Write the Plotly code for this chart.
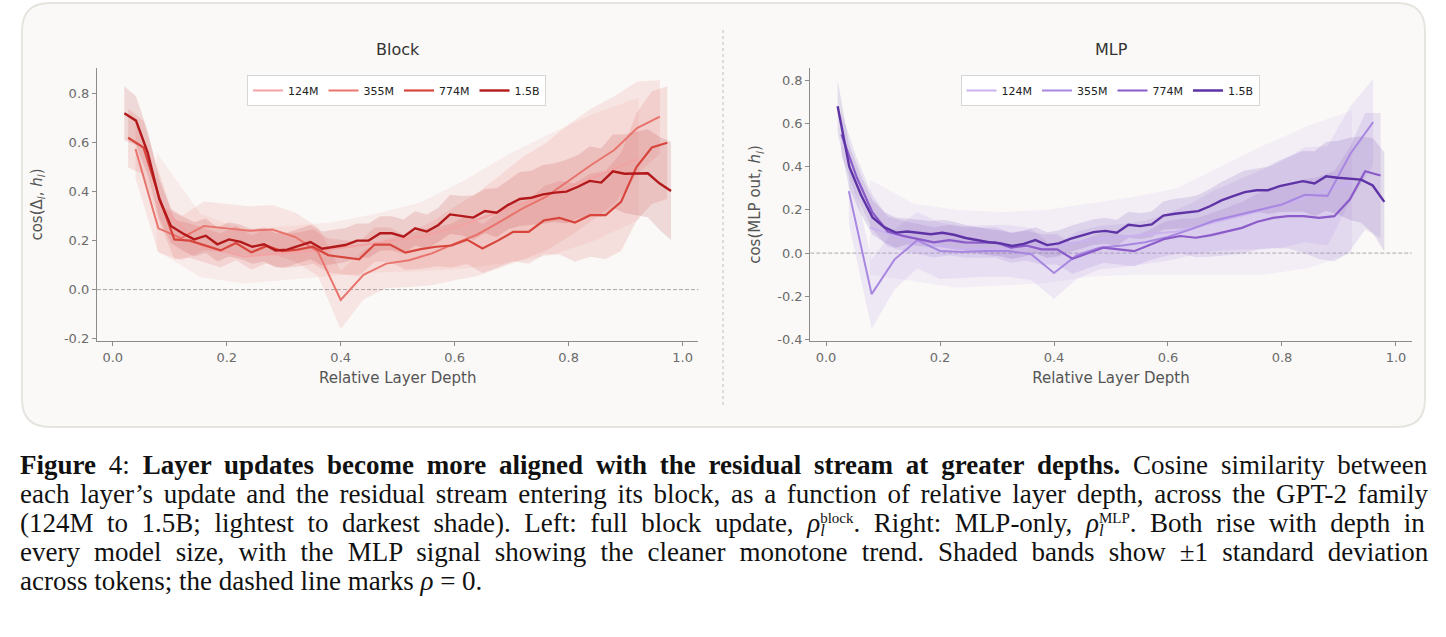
import plotly.graph_objects as go

W, H = 1446, 637

# ---------------- data ----------------
model_names = ["124M", "355M", "774M", "1.5B"]
n_layers = [12, 24, 36, 48]

# Block panel: mean cosine per layer (lightest -> darkest)
blk_124 = [0.36, 0.18, 0.135, 0.15, 0.165, 0.19, 0.215, 0.265, 0.33, 0.39, 0.46, 0.535]
blk_355 = [0.574, 0.25, 0.21, 0.26, 0.25, 0.24, 0.245, 0.215, 0.155, -0.042, 0.06, 0.106,
           0.12, 0.148, 0.188, 0.225, 0.278, 0.333, 0.379, 0.445, 0.51, 0.57, 0.66, 0.706]
blk_774 = [0.62, 0.58, 0.38, 0.205, 0.20, 0.18, 0.16, 0.19, 0.152, 0.178, 0.157, 0.163,
           0.175, 0.14, 0.133, 0.124, 0.184, 0.184, 0.151, 0.165, 0.175, 0.18, 0.204, 0.168,
           0.2, 0.236, 0.236, 0.283, 0.293, 0.274, 0.304, 0.304, 0.358, 0.50, 0.58, 0.60]
blk_15b = [0.72, 0.69, 0.56, 0.37, 0.26, 0.23, 0.205, 0.22, 0.185, 0.205, 0.195, 0.175,
           0.185, 0.16, 0.163, 0.177, 0.194, 0.167, 0.175, 0.182, 0.20, 0.20, 0.23, 0.23,
           0.216, 0.25, 0.237, 0.264, 0.307, 0.302, 0.294, 0.321, 0.314, 0.346, 0.37, 0.375,
           0.389, 0.396, 0.40, 0.42, 0.444, 0.437, 0.483, 0.473, 0.475, 0.475, 0.434, 0.403]

blk_124_sd = [0.2, 0.13, 0.11, 0.11, 0.11, 0.12, 0.14, 0.18, 0.22, 0.25, 0.26, 0.25]
blk_355_sd = [0.12, 0.1, 0.09, 0.1, 0.1, 0.1, 0.1, 0.1, 0.1, 0.12, 0.1, 0.1,
              0.11, 0.13, 0.15, 0.17, 0.19, 0.21, 0.22, 0.23, 0.23, 0.22, 0.19, 0.15]
blk_774_sd = [0.12, 0.11, 0.1, 0.08, 0.07, 0.07, 0.07, 0.07, 0.07, 0.07, 0.07, 0.07,
              0.07, 0.07, 0.07, 0.07, 0.07, 0.07, 0.07, 0.08, 0.08, 0.09, 0.1, 0.1,
              0.11, 0.12, 0.13, 0.14, 0.15, 0.16, 0.17, 0.18, 0.2, 0.22, 0.23, 0.23]
blk_15b_sd = [0.11, 0.1, 0.09, 0.08, 0.07, 0.07, 0.07, 0.07, 0.07, 0.07, 0.07, 0.07,
              0.07, 0.07, 0.07, 0.07, 0.07, 0.07, 0.07, 0.07, 0.07, 0.07, 0.07, 0.07,
              0.07, 0.07, 0.07, 0.07, 0.08, 0.08, 0.09, 0.09, 0.1, 0.1, 0.11, 0.11,
              0.12, 0.12, 0.13, 0.13, 0.14, 0.14, 0.15, 0.16, 0.17, 0.18, 0.19, 0.2]

# MLP panel
mlp_124 = [0.12, 0.05, 0.02, 0.02, 0.03, 0.06, 0.08, 0.1, 0.15, 0.2, 0.26, 0.33]
mlp_355 = [0.287, -0.19, -0.03, 0.06, 0.01, 0.005, 0.01, 0.01, -0.005, -0.092, -0.01, 0.025,
           0.035, 0.05, 0.075, 0.11, 0.15, 0.175, 0.2, 0.225, 0.27, 0.265, 0.46, 0.606]
mlp_774 = [0.55, 0.35, 0.19, 0.10, 0.08, 0.065, 0.05, 0.06, 0.05, 0.048, 0.05, 0.025,
           0.035, 0.017, 0.017, -0.026, 0.0, 0.025, 0.017, 0.009, 0.037, 0.066, 0.079, 0.071,
           0.083, 0.099, 0.117, 0.145, 0.163, 0.171, 0.171, 0.163, 0.171, 0.248, 0.379, 0.359]
mlp_15b = [0.68, 0.40, 0.27, 0.165, 0.12, 0.095, 0.10, 0.092, 0.087, 0.094, 0.085, 0.07,
           0.06, 0.05, 0.045, 0.033, 0.043, 0.06, 0.037, 0.045, 0.066, 0.083, 0.097, 0.103,
           0.094, 0.131, 0.125, 0.133, 0.174, 0.182, 0.187, 0.194, 0.217, 0.244, 0.264, 0.282,
           0.291, 0.291, 0.31, 0.322, 0.333, 0.322, 0.356, 0.349, 0.344, 0.34, 0.313, 0.237]

mlp_124_sd = [0.22, 0.18, 0.18, 0.17, 0.17, 0.17, 0.18, 0.2, 0.25, 0.3, 0.33, 0.33]
mlp_355_sd = [0.15, 0.16, 0.14, 0.13, 0.13, 0.12, 0.12, 0.12, 0.12, 0.12, 0.11, 0.1,
              0.1, 0.1, 0.11, 0.12, 0.14, 0.16, 0.18, 0.2, 0.22, 0.23, 0.22, 0.2]
mlp_774_sd = [0.1, 0.09, 0.08, 0.07, 0.07, 0.07, 0.07, 0.07, 0.07, 0.07, 0.07, 0.07,
              0.07, 0.07, 0.07, 0.07, 0.07, 0.07, 0.07, 0.07, 0.07, 0.08, 0.08, 0.09,
              0.1, 0.11, 0.12, 0.13, 0.14, 0.15, 0.17, 0.19, 0.21, 0.24, 0.27, 0.29]
mlp_15b_sd = [0.12, 0.1, 0.09, 0.08, 0.07, 0.07, 0.06, 0.06, 0.06, 0.06, 0.06, 0.06,
              0.06, 0.06, 0.06, 0.06, 0.06, 0.06, 0.06, 0.06, 0.06, 0.06, 0.06, 0.06,
              0.06, 0.06, 0.06, 0.06, 0.065, 0.07, 0.07, 0.075, 0.08, 0.085, 0.09, 0.1,
              0.1, 0.11, 0.12, 0.13, 0.14, 0.15, 0.16, 0.17, 0.19, 0.2, 0.22, 0.23]

x_ticks = [0.0, 0.2, 0.4, 0.6, 0.8, 1.0]
x_tick_text = ["0.0", "0.2", "0.4", "0.6", "0.8", "1.0"]
blk_y_ticks = [-0.2, 0.0, 0.2, 0.4, 0.6, 0.8]
blk_y_tick_text = ["-0.2", "0.0", "0.2", "0.4", "0.6", "0.8"]
mlp_y_ticks = [-0.4, -0.2, 0.0, 0.2, 0.4, 0.6, 0.8]
mlp_y_tick_text = ["-0.4", "-0.2", "0.0", "0.2", "0.4", "0.6", "0.8"]

red_colors = ["#f2a3a3", "#e8746d", "#d8453d", "#b3191b"]
purple_colors = ["#cab3ee", "#a887e0", "#8a5bc9", "#5e33a6"]
line_widths = [2.0, 2.0, 2.2, 2.4]

# ---------------- helpers ----------------
def rgba(hexc, a):
    hexc = hexc.lstrip("#")
    r, g, b = int(hexc[0:2], 16), int(hexc[2:4], 16), int(hexc[4:6], 16)
    return f"rgba({r},{g},{b},{a})"

def depth(L):
    return [(i + 1) / (L + 1) for i in range(L)]

def px(x):
    return x / W

def py(y):
    return 1 - y / H

fig = go.Figure()

def add_panel(means, sds, colors, xa, ya, legend):
    for m, s, c, L, name in zip(means, sds, colors, n_layers, model_names):
        xs = depth(L)
        up = [a + b for a, b in zip(m, s)]
        lo = [a - b for a, b in zip(m, s)]
        fig.add_trace(go.Scatter(
            x=xs + xs[::-1], y=up + lo[::-1], fill="toself",
            fillcolor=rgba(c, 0.14), line=dict(width=0), mode="lines",
            hoverinfo="skip", showlegend=False, xaxis=xa, yaxis=ya))
    for m, c, L, name, lw in zip(means, colors, n_layers, model_names, line_widths):
        fig.add_trace(go.Scatter(
            x=depth(L), y=m, mode="lines", name=name,
            line=dict(color=c, width=lw), xaxis=xa, yaxis=ya, legend=legend))

add_panel([blk_124, blk_355, blk_774, blk_15b],
          [blk_124_sd, blk_355_sd, blk_774_sd, blk_15b_sd], red_colors, "x", "y", "legend")
add_panel([mlp_124, mlp_355, mlp_774, mlp_15b],
          [mlp_124_sd, mlp_355_sd, mlp_774_sd, mlp_15b_sd], purple_colors, "x2", "y2", "legend2")

tick_font = dict(family="DejaVu Sans", size=13, color="#6b6b6b")
title_font = dict(family="DejaVu Sans", size=15, color="#555555")
axcol = "#8c8c8c"

def xaxis(dom, anchor):
    return dict(domain=dom, range=[-0.0276, 1.0276], anchor=anchor, showline=True,
                linecolor=axcol, linewidth=1.2, ticks="outside", ticklen=4, tickcolor=axcol,
                tickvals=x_ticks, ticktext=x_tick_text, tickfont=tick_font,
                showgrid=False, zeroline=False, automargin=False,
                title=dict(text="Relative Layer Depth", font=title_font, standoff=8))

def yaxis(rng, tv, tt, title, anchor, standoff):
    return dict(domain=[py(341), py(68)], range=rng, anchor=anchor, showline=True,
                linecolor=axcol, linewidth=1.2, ticks="outside", ticklen=4, tickcolor=axcol,
                tickvals=tv, ticktext=tt, tickfont=tick_font,
                showgrid=False, zeroline=False, automargin=False,
                title=dict(text=title, font=title_font, standoff=standoff))

legend_common = dict(orientation="h", yanchor="top", xanchor="center", bgcolor="white",
                     bordercolor="#d6d6d6", borderwidth=1,
                     font=dict(family="DejaVu Sans", size=11, color="#222222"),
                     itemwidth=30, tracegroupgap=0, entrywidth=0)

fig.update_layout(
    width=W, height=H, margin=dict(l=0, r=0, t=0, b=0),
    template="none", paper_bgcolor="white", plot_bgcolor="rgba(0,0,0,0)",
    xaxis=xaxis([px(97), px(698.4)], "y"),
    yaxis=yaxis([-0.21, 0.905], blk_y_ticks, blk_y_tick_text,
                "cos(Δ<sub><i>l</i></sub>, <i>h</i><sub><i>l</i></sub>)", "x", 17),
    xaxis2=xaxis([px(810.3), px(1411.7)], "y2"),
    yaxis2=yaxis([-0.407, 0.857], mlp_y_ticks, mlp_y_tick_text,
                 "cos(MLP out, <i>h</i><sub><i>l</i></sub>)", "x2", 12),
    legend=dict(x=px(396.5), y=py(75), **legend_common),
    legend2=dict(x=px(1110), y=py(75), **legend_common),
    showlegend=True,
)

# card background with rounded corners
x0, x1, y0, y1, r = 22, 1425, 3, 427, 28
path = (f"M {px(x0+r)} {py(y0)} L {px(x1-r)} {py(y0)} Q {px(x1)} {py(y0)} {px(x1)} {py(y0+r)} "
        f"L {px(x1)} {py(y1-r)} Q {px(x1)} {py(y1)} {px(x1-r)} {py(y1)} "
        f"L {px(x0+r)} {py(y1)} Q {px(x0)} {py(y1)} {px(x0)} {py(y1-r)} "
        f"L {px(x0)} {py(y0+r)} Q {px(x0)} {py(y0)} {px(x0+r)} {py(y0)} Z")
shapes = [
    dict(type="path", path=path, xref="paper", yref="paper", fillcolor="#faf9f7",
         line=dict(color="#e6e4de", width=2), layer="below"),
    dict(type="line", xref="paper", yref="paper", x0=px(723), x1=px(723), y0=py(30), y1=py(405),
         line=dict(color="#bdbdbd", width=1, dash="dot"), layer="below"),
    dict(type="line", xref="x domain", yref="y", x0=0, x1=1, y0=0, y1=0,
         line=dict(color="#a8a8a8", width=1, dash="4px,2px"), layer="below"),
    dict(type="line", xref="x2 domain", yref="y2", x0=0, x1=1, y0=0, y1=0,
         line=dict(color="#a8a8a8", width=1, dash="4px,2px"), layer="below"),
]
fig.update_layout(shapes=shapes)

annotations = [
    dict(text="Block", x=px(397.7), y=py(50), xref="paper", yref="paper", showarrow=False,
         font=dict(family="DejaVu Sans", size=16, color="#333333"), xanchor="center", yanchor="middle"),
    dict(text="MLP", x=px(1111), y=py(50), xref="paper", yref="paper", showarrow=False,
         font=dict(family="DejaVu Sans", size=16, color="#333333"), xanchor="center", yanchor="middle"),
]

def rho(sup):
    # rho with stacked subscript l and superscript label
    return ('<i>ρ</i><span style="font-size:17px;font-style:italic;baseline-shift:-4px;'
            'letter-spacing:-4.7px">l</span>'
            f'<span style="font-size:15px;baseline-shift:9px">{sup}</span>')

caption_lines = [
    "<b>Figure</b> 4: <b>Layer updates become more aligned with the residual stream at greater depths.</b> Cosine similarity between",
    "each layer’s update and the residual stream entering its block, as a function of relative layer depth, across the GPT-2 family",
    f"(124M to 1.5B; lightest to darkest shade). Left: full block update, {rho('block')}. Right: MLP-only, {rho('MLP')}. Both rise with depth in",
    "every model size, with the MLP signal showing the cleaner monotone trend. Shaded bands show ±1 standard deviation",
    "across tokens; the dashed line marks <i>ρ</i> = 0.",
]
caption_word_spacing = [6.1, 3.9, 6.8, 7.35, 0.0]
caption_text = "<br>".join(
    f'<span style="font-size:27px;word-spacing:{ws}px">{t}</span>'
    for t, ws in zip(caption_lines, caption_word_spacing))
annotations.append(dict(text=caption_text, x=px(18), y=py(448), xref="paper", yref="paper",
                        showarrow=False, xanchor="left", yanchor="top", align="left",
                        font=dict(family="Liberation Serif", size=22.3, color="#111111")))
fig.update_layout(annotations=annotations)

fig.write_html("out.html")
